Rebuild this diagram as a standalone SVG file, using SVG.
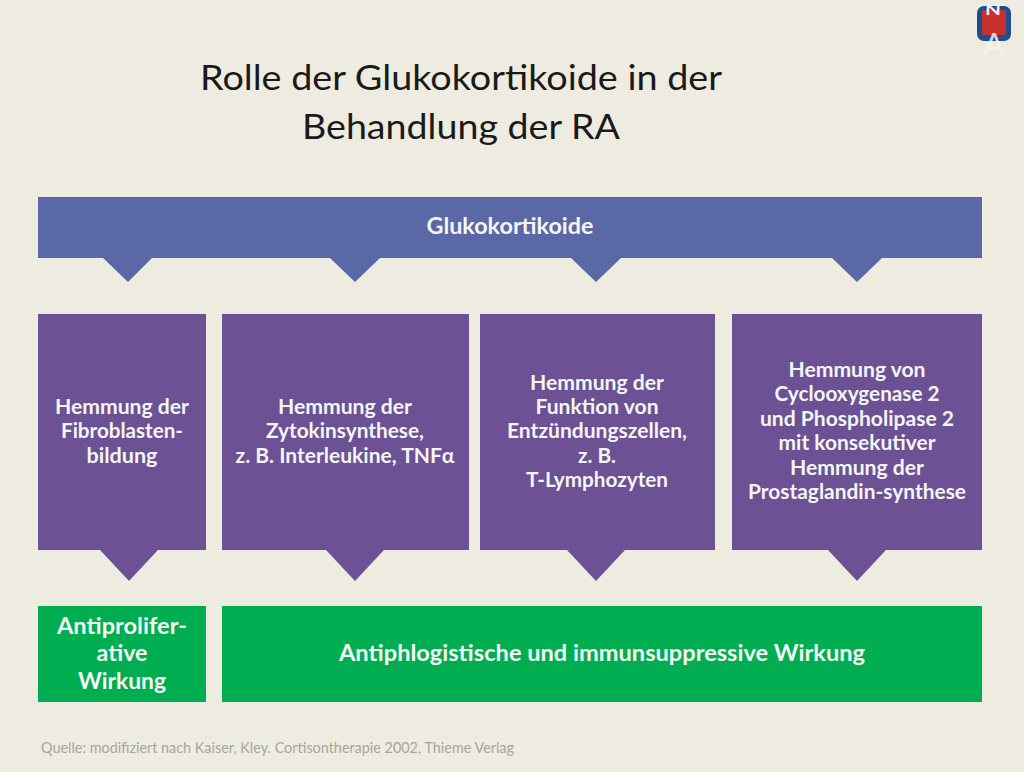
<svg xmlns="http://www.w3.org/2000/svg" width="1024" height="772" viewBox="0 0 1024 772">
<style>
text{font-family:Lato,"Open Sans","Liberation Sans",sans-serif;text-anchor:middle}
.t{font-size:34px;fill:#1a1a1a}
.b{font-size:20px;font-weight:700;fill:#f4f6f4}
.g{font-size:23px;font-weight:700;fill:#f4f8f4}
.q{font-size:15px;fill:#a5a5a0;text-anchor:start}
.blue{fill:#5a68a6}.pur{fill:#6c5195}.grn{fill:#00ad50}
</style>
<rect width="1024" height="772" fill="#eeece1"/>
<g id="logo">
<rect x="977" y="6" width="34" height="35" rx="7" fill="#1f4e8c"/>
<rect x="982" y="10" width="24" height="25" rx="2" fill="#c8302f"/>
<text x="993" y="15" textLength="16" lengthAdjust="spacingAndGlyphs" style="font-size:15px;font-weight:700;fill:#f2f1ec">N</text>
<text x="994" y="55" style="font-size:31px;font-weight:400;fill:#f6f5f0;fill-opacity:.85">A</text>
</g>
<g id="title">
<text class="t" x="461" y="90" textLength="522" lengthAdjust="spacingAndGlyphs">Rolle der Glukokortikoide in der</text>
<text class="t" x="461" y="139" textLength="318" lengthAdjust="spacingAndGlyphs">Behandlung der RA</text>
</g>
<g id="glukokortikoide">
<path class="blue" d="M38 197H982V258H882L857 282L832 258H621L596 282L571 258H380L355 282L330 258H152L128 282L103 258H38Z"/>
<text class="b" x="510" y="234" textLength="167" lengthAdjust="spacingAndGlyphs" style="font-size:22px">Glukokortikoide</text>
</g>
<g id="box1">
<path class="pur" d="M38 314H206V550H158L129 581L100 550H38Z"/>
<text class="b" x="122" y="414" textLength="134" lengthAdjust="spacingAndGlyphs">Hemmung der</text>
<text class="b" x="122" y="438" textLength="122" lengthAdjust="spacingAndGlyphs">Fibroblasten-</text>
<text class="b" x="122" y="463" textLength="71" lengthAdjust="spacingAndGlyphs">bildung</text>
</g>
<g id="box2">
<path class="pur" d="M222 314H469V550H384L355 581L326 550H222Z"/>
<text class="b" x="345" y="414" textLength="134" lengthAdjust="spacingAndGlyphs">Hemmung der</text>
<text class="b" x="345" y="438" textLength="158" lengthAdjust="spacingAndGlyphs">Zytokinsynthese,</text>
<text class="b" x="345" y="463" textLength="219" lengthAdjust="spacingAndGlyphs">z. B. Interleukine, TNFα</text>
</g>
<g id="box3">
<path class="pur" d="M480 314H715V550H625L596 581L567 550H480Z"/>
<text class="b" x="597" y="390" textLength="134" lengthAdjust="spacingAndGlyphs">Hemmung der</text>
<text class="b" x="597" y="414" textLength="123" lengthAdjust="spacingAndGlyphs">Funktion von</text>
<text class="b" x="597" y="438" textLength="180" lengthAdjust="spacingAndGlyphs">Entzündungszellen,</text>
<text class="b" x="597" y="463" textLength="38" lengthAdjust="spacingAndGlyphs">z. B.</text>
<text class="b" x="597" y="487" textLength="142" lengthAdjust="spacingAndGlyphs">T-Lymphozyten</text>
</g>
<g id="box4">
<path class="pur" d="M732 314H982V550H886L857 581L828 550H732Z"/>
<text class="b" x="857" y="377" textLength="137" lengthAdjust="spacingAndGlyphs">Hemmung von</text>
<text class="b" x="857" y="401" textLength="165" lengthAdjust="spacingAndGlyphs">Cyclooxygenase 2</text>
<text class="b" x="857" y="426" textLength="194" lengthAdjust="spacingAndGlyphs">und Phospholipase 2</text>
<text class="b" x="857" y="450" textLength="157" lengthAdjust="spacingAndGlyphs">mit konsekutiver</text>
<text class="b" x="857" y="475" textLength="134" lengthAdjust="spacingAndGlyphs">Hemmung der</text>
<text class="b" x="857" y="499" textLength="218" lengthAdjust="spacingAndGlyphs">Prostaglandin-synthese</text>
</g>
<g id="result1">
<rect class="grn" x="38" y="606" width="168" height="96"/>
<text class="g" x="122" y="634" textLength="130" lengthAdjust="spacingAndGlyphs">Antiprolifer-</text>
<text class="g" x="122" y="661" textLength="51" lengthAdjust="spacingAndGlyphs">ative</text>
<text class="g" x="122" y="689" textLength="88" lengthAdjust="spacingAndGlyphs">Wirkung</text>
</g>
<g id="result2">
<rect class="grn" x="222" y="606" width="760" height="96"/>
<text class="g" x="602" y="661" textLength="526" lengthAdjust="spacingAndGlyphs">Antiphlogistische und immunsuppressive Wirkung</text>
</g>
<g id="connectors"></g>
<text class="q" x="41" y="753" textLength="473" lengthAdjust="spacingAndGlyphs">Quelle: modifiziert nach Kaiser, Kley. Cortisontherapie 2002, Thieme Verlag</text>
</svg>
